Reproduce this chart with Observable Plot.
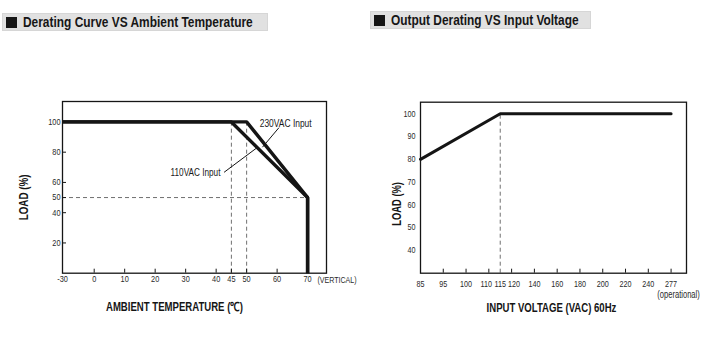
<!DOCTYPE html>
<html><head><meta charset="utf-8">
<script src="https://cdn.jsdelivr.net/npm/d3@7"></script>
<script src="https://cdn.jsdelivr.net/npm/@observablehq/plot@0.6"></script>
<style>
body{margin:0;background:#fff;}
#wrap{position:relative;width:718px;height:344px;overflow:hidden;font-family:"Liberation Sans",Arial,sans-serif;}
.title{position:absolute;background:#e1e1e1;border:1px solid #d6d6d6;box-sizing:border-box;font-weight:bold;font-size:14px;color:#161616;display:flex;align-items:center;white-space:nowrap;}
.title .sq{display:inline-block;width:11px;height:11px;background:#161616;margin:0 6px 0 3px;flex:none;}
.title .tx{display:inline-block;transform-origin:left center;}
.chart{position:absolute;top:0;}
</style></head><body>
<div id="wrap">
  <div class="title" style="left:2px;top:13px;width:266px;height:18px"><span class="sq"></span><span class="tx" data-w="229.6">Derating Curve VS Ambient Temperature</span></div>
  <div class="title" style="left:370px;top:11px;width:221px;height:18px"><span class="sq"></span><span class="tx" data-w="187.6">Output Derating VS Input Voltage</span></div>
  <div class="chart" id="left" style="left:0"></div>
  <div class="chart" id="right" style="left:360px"></div>
</div>
<script>
// ---- data: Derating Curve VS Ambient Temperature ----
const tempTicks = [-30, 0, 10, 20, 30, 40, 45, 50, 60, 70];
const loadTicksA = [100, 80, 60, 50, 40, 20];
const temp230 = [-30, 50, 70, 70];
const load230 = [100, 100, 50, 0];
const temp110 = [-30, 45, 70, 70];
const load110 = [100, 100, 50, 0];
const tempGuides = [45, 50];
const loadGuides = [50];
const curveLabels = ["230VAC Input", "110VAC Input"];

// ---- data: Output Derating VS Input Voltage ----
const voltTicks = [85, 95, 100, 110, 115, 120, 140, 160, 180, 200, 220, 240, 277];
const voltBreaks = [85, 95, 100, 110, 120, 140, 160, 180, 200, 220, 240, 277];
const loadTicksB = [40, 50, 60, 70, 80, 90, 100];
const voltage = [85, 115, 277];
const loadB = [80, 100, 100];
const voltGuides = [115];

const FONT = '"Liberation Sans",Arial,sans-serif';
const INK = "#151515";
const DASH = {stroke: "#707070", strokeWidth: 1, strokeDasharray: "4,3"};

// Horizontally condense SVG text (the original uses a narrow typeface)
function condense(svg, widths, k) {
  svg.querySelectorAll("text").forEach(t => {
    const s = t.textContent;
    const len = t.getComputedTextLength();
    const f = widths[s] ? widths[s] / len : k;
    const tr = t.getAttribute("transform") || "";
    t.setAttribute("transform", tr + ` scale(${f.toFixed(3)},1)`);
  });
}

// ---------- Left chart ----------
{
  const W = 360, H = 344, mL = 62, mR = 34, mT = 101, mB = 71.3;
  const fw = W - mL - mR, fh = H - mT - mB;
  const series = [
    ...temp230.map((t, i) => ({s: "230", t, l: load230[i]})),
    ...temp110.map((t, i) => ({s: "110", t, l: load110[i]}))
  ];
  const leaders = [
    {t1: 60.6, l1: 96.2, t2: 55.2, l2: 83.3},
    {t1: 42.6, l1: 66.7, t2: 53.3, l2: 82.8}
  ];
  const chart = Plot.plot({
    width: W, height: H,
    marginLeft: mL, marginRight: mR, marginTop: mT, marginBottom: mB,
    style: {fontFamily: FONT, fontSize: "9px", color: "#2a2a2a", background: "transparent", overflow: "visible"},
    x: {type: "linear", domain: [-30, 0, 76.2], range: [mL, mL + 31.7, W - mR]},
    y: {domain: [0, 113.5]},
    marks: [
      Plot.ruleX(tempGuides, {x: d => d, y1: 0, y2: 100, ...DASH}),
      Plot.ruleY(loadGuides, {y: d => d, x1: -30, x2: 70, ...DASH}),
      Plot.line(series, {x: "t", y: "l", z: "s", stroke: INK, strokeWidth: 3.4, strokeLinejoin: "miter", strokeLinecap: "butt"}),
      Plot.link(leaders, {x1: "t1", y1: "l1", x2: "t2", y2: "l2", stroke: INK, strokeWidth: 1}),
      Plot.text([curveLabels[0]], {x: 54.3, y: 98.6, textAnchor: "start", fontSize: 10.5, fill: "#1a1a1a"}),
      Plot.text([curveLabels[1]], {x: 41.4, y: 66.2, textAnchor: "end", fontSize: 10.5, fill: "#1a1a1a"}),
      Plot.tickX(tempTicks, {x: d => d, insetTop: fh - 4, stroke: INK, strokeWidth: 1}),
      Plot.tickY(loadTicksA, {y: d => d, insetRight: fw - 4, stroke: INK, strokeWidth: 1}),
      Plot.frame({stroke: INK, strokeWidth: 1.3}),
      Plot.axisX(tempTicks, {tickSize: 0, tickPadding: 2.5, label: null, tickFormat: d => String(d)}),
      Plot.axisY(loadTicksA, {tickSize: 0, tickPadding: 2, label: null, tickFormat: d => String(d)}),
      Plot.text(["(VERTICAL)"], {frameAnchor: "bottom-right", dx: 10.5, dy: 6.5, lineAnchor: "middle", textAnchor: "middle", fontSize: 9.5, fill: "#2a2a2a"}),
      Plot.text(["AMBIENT TEMPERATURE (\u2103)"], {frameAnchor: "bottom", dx: -20, dy: 34, lineAnchor: "middle", fontSize: 12.5, fontWeight: "bold", fill: "#151515"}),
      Plot.text(["LOAD (%)"], {frameAnchor: "left", dx: -39, dy: 33, rotate: -90, lineAnchor: "middle", fontSize: 12.5, fontWeight: "bold", fill: "#151515"})
    ]
  });
  document.getElementById("left").append(chart);
  condense(chart, {"AMBIENT TEMPERATURE (\u2103)": 137, "LOAD (%)": 46, "(VERTICAL)": 39.3, "230VAC Input": 52, "110VAC Input": 50}, 0.82);
}

// ---------- Right chart ----------
{
  const W = 358, H = 344, mL = 60, mR = 32, mT = 101.7, mB = 71.3;
  const fw = W - mL - mR, fh = H - mT - mB;
  const step = 22.78;
  const xDomain = [...voltBreaks, 302];
  const xRange = [...voltBreaks.map((_, i) => mL + i * step), W - mR];
  const pts = voltage.map((v, i) => ({v, l: loadB[i]}));
  const ax = {tickSize: 0, tickPadding: 7.5, label: null, tickFormat: d => String(d)};
  const chart = Plot.plot({
    width: W, height: H,
    marginLeft: mL, marginRight: mR, marginTop: mT, marginBottom: mB,
    style: {fontFamily: FONT, fontSize: "8.8px", color: "#2a2a2a", background: "transparent", overflow: "visible"},
    x: {type: "linear", domain: xDomain, range: xRange},
    y: {domain: [30, 105.1]},
    marks: [
      Plot.ruleX(voltGuides, {x: d => d, y1: 30, y2: 100, ...DASH}),
      Plot.line(pts, {x: "v", y: "l", stroke: INK, strokeWidth: 3, strokeLinejoin: "miter"}),
      Plot.tickX(voltTicks.filter(d => d !== 115), {x: d => d, insetTop: fh - 4, stroke: INK, strokeWidth: 1}),
      Plot.frame({stroke: INK, strokeWidth: 1.3}),
      Plot.axisX(voltTicks.filter(d => d !== 110 && d !== 120), ax),
      Plot.axisX(voltTicks.filter(d => d === 110), {...ax, dx: -2.5}),
      Plot.axisX(voltTicks.filter(d => d === 120), {...ax, dx: 2.5}),
      Plot.axisY(loadTicksB, {tickSize: 0, tickPadding: 5, label: null, tickFormat: d => String(d)}),
      Plot.text(["(operational)"], {frameAnchor: "bottom-right", dx: -8, dy: 22, lineAnchor: "middle", textAnchor: "middle", fontSize: 10, fill: "#2a2a2a"}),
      Plot.text(["INPUT VOLTAGE (VAC) 60Hz"], {frameAnchor: "bottom", dx: -2, dy: 35, lineAnchor: "middle", fontSize: 12.5, fontWeight: "bold", fill: "#151515"}),
      Plot.text(["LOAD (%)"], {frameAnchor: "left", dx: -24, dy: 38, rotate: -90, lineAnchor: "middle", fontSize: 12.5, fontWeight: "bold", fill: "#151515"})
    ]
  });
  document.getElementById("right").append(chart);
  condense(chart, {"INPUT VOLTAGE (VAC) 60Hz": 130, "LOAD (%)": 43.7, "(operational)": 42.6}, 0.82);
}

// Condense the HTML titles to the original narrow width
document.querySelectorAll(".title .tx").forEach(el => {
  const w = el.getBoundingClientRect().width;
  el.style.transform = `scaleX(${(+el.dataset.w / w).toFixed(3)})`;
});
</script>
</body></html>
